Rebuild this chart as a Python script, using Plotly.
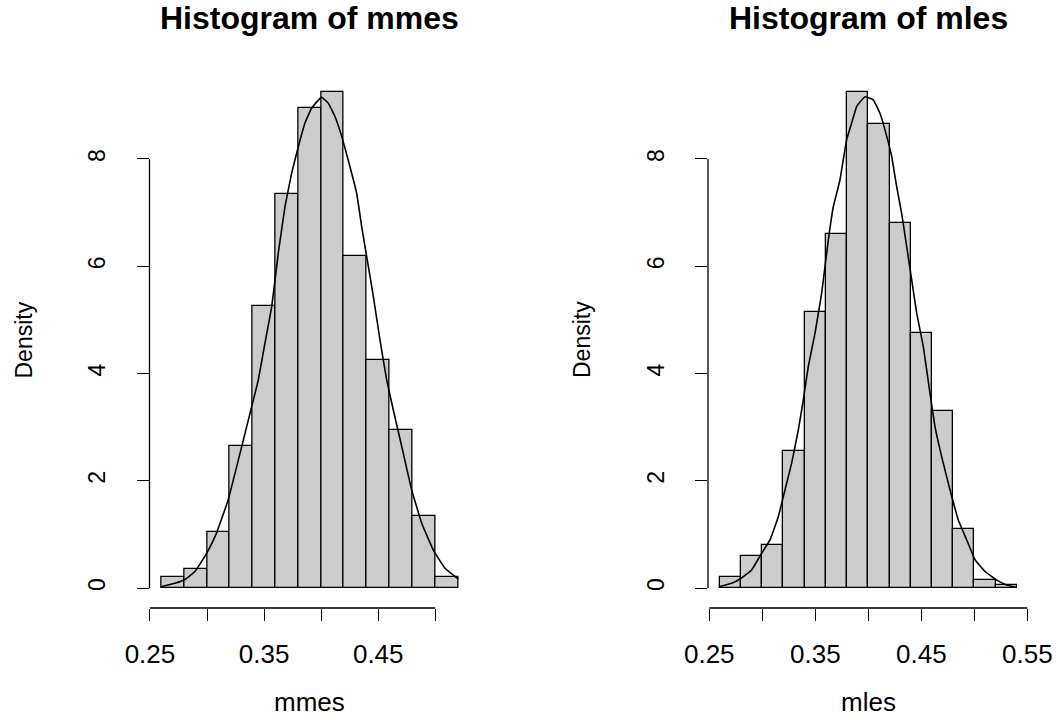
import plotly.graph_objects as go

# ---- data ----
mmes_breaks = [0.26, 0.28, 0.30, 0.32, 0.34, 0.36, 0.38, 0.40, 0.42, 0.44, 0.46, 0.48, 0.50, 0.52]
mmes_density = [0.2, 0.35, 1.05, 2.65, 5.25, 7.35, 8.95, 9.25, 6.2, 4.25, 2.95, 1.35, 0.2]

mles_breaks = [0.26, 0.28, 0.30, 0.32, 0.34, 0.36, 0.38, 0.40, 0.42, 0.44, 0.46, 0.48, 0.50, 0.52, 0.54]
mles_density = [0.2, 0.6, 0.8, 2.55, 5.15, 6.6, 9.25, 8.65, 6.8, 4.75, 3.3, 1.1, 0.15, 0.05]

mmes_curve_x = [0.2603, 0.2719, 0.2813, 0.2894, 0.2997, 0.3084, 0.3186, 0.3245, 0.3304, 0.3391,
                0.3449, 0.3508, 0.3567, 0.3624, 0.3683, 0.3742, 0.3800, 0.3858, 0.3917, 0.3990,
                0.4005, 0.4062, 0.4121, 0.4180, 0.4237, 0.4311, 0.4355, 0.4399, 0.4457, 0.4515,
                0.4574, 0.4632, 0.4706, 0.4793, 0.4881, 0.4983, 0.5085, 0.5202]
mmes_curve_y = [0.03, 0.09, 0.17, 0.31, 0.65, 1.03, 1.65, 2.14, 2.64, 3.38,
                3.88, 4.57, 5.25, 6.24, 7.11, 7.74, 8.23, 8.67, 8.95, 9.13,
                9.15, 9.04, 8.79, 8.42, 7.98, 7.36, 6.74, 6.18, 5.44, 4.63,
                3.88, 3.32, 2.64, 1.83, 1.21, 0.71, 0.37, 0.17]

mles_curve_x = [0.2601, 0.2711, 0.2790, 0.2900, 0.2994, 0.3073, 0.3151, 0.3214, 0.3277, 0.3340,
                0.3387, 0.3434, 0.3497, 0.3560, 0.3623, 0.3670, 0.3733, 0.3796, 0.3843, 0.3891,
                0.3953, 0.3969, 0.4047, 0.4110, 0.4174, 0.4221, 0.4268, 0.4315, 0.4362, 0.4409,
                0.4457, 0.4519, 0.4582, 0.4629, 0.4692, 0.4771, 0.4849, 0.4928, 0.5007, 0.5101,
                0.5211, 0.5306, 0.5384]
mles_curve_y = [0.03, 0.09, 0.17, 0.34, 0.65, 0.90, 1.33, 1.83, 2.33, 2.95,
                3.51, 4.13, 4.75, 5.50, 6.49, 7.11, 7.61, 8.36, 8.67, 8.98,
                9.13, 9.16, 9.10, 8.85, 8.42, 8.04, 7.48, 6.98, 6.37, 5.75,
                5.12, 4.50, 3.63, 3.01, 2.45, 1.83, 1.27, 0.90, 0.53, 0.31,
                0.15, 0.06, 0.02]

mmes_xticks = [0.25, 0.30, 0.35, 0.40, 0.45, 0.50]
mmes_xtick_text = ["0.25", "", "0.35", "", "0.45", ""]
mles_xticks = [0.25, 0.30, 0.35, 0.40, 0.45, 0.50, 0.55]
mles_xtick_text = ["0.25", "", "0.35", "", "0.45", "", "0.55"]
y_ticks = [0, 2, 4, 6, 8]

panels = [
    dict(name="mmes", breaks=mmes_breaks, dens=mmes_density, cx=mmes_curve_x, cy=mmes_curve_y,
         xt=mmes_xticks, xtt=mmes_xtick_text, xr=[0.2496, 0.5304], dom=[149.5, 470.0]),
    dict(name="mles", breaks=mles_breaks, dens=mles_density, cx=mles_curve_x, cy=mles_curve_y,
         xt=mles_xticks, xtt=mles_xtick_text, xr=[0.2488, 0.5512], dom=[708.0, 1028.6]),
]

W, H = 1060, 720


def px(v):
    return v / W


def py(v):
    return 1 - v / H


FONT = "Liberation Sans, Arial, Helvetica, sans-serif"
fig = go.Figure()
shapes = []
annotations = []
layout_axes = {}

for i, p in enumerate(panels):
    k = "" if i == 0 else str(i + 1)
    xa, ya = "x" + k, "y" + k
    centers = [(a + b) / 2 for a, b in zip(p["breaks"][:-1], p["breaks"][1:])]
    widths = [b - a for a, b in zip(p["breaks"][:-1], p["breaks"][1:])]
    fig.add_trace(go.Bar(x=centers, y=p["dens"], width=widths, xaxis=xa, yaxis=ya,
                         marker=dict(color="#CCCCCC", line=dict(color="#000000", width=1.3)),
                         showlegend=False, hoverinfo="x+y"))
    fig.add_trace(go.Scatter(x=p["cx"], y=p["cy"], mode="lines", xaxis=xa, yaxis=ya,
                             line=dict(color="#000000", width=1.6, shape="spline", smoothing=0.3),
                             showlegend=False))
    d0, d1 = px(p["dom"][0]), px(p["dom"][1])
    layout_axes["xaxis" + k] = dict(
        domain=[d0, d1], range=p["xr"], anchor=ya, showgrid=False, zeroline=False, showline=False,
        tickmode="array", tickvals=p["xt"], ticktext=p["xtt"], ticks="outside", ticklen=12,
        tickwidth=1.3, tickcolor="#000000", ticklabelstandoff=11,
        tickfont=dict(family=FONT, size=26, color="#000000"), fixedrange=True)
    layout_axes["yaxis" + k] = dict(
        domain=[py(608), py(72)], range=[-0.37, 9.62], anchor=xa, showgrid=False,
        zeroline=False, showline=False, tickmode="array", tickvals=y_ticks,
        ticktext=[str(v) for v in y_ticks], ticks="outside", ticklen=12, tickwidth=1.3,
        tickcolor="#000000", tickangle=-90, ticklabelstandoff=22,
        tickfont=dict(family=FONT, size=23, color="#000000"), fixedrange=True)
    # R-style axis lines spanning only the tick range
    shapes.append(dict(type="line", xref=xa, yref=ya + " domain", x0=p["xt"][0], x1=p["xt"][-1],
                       y0=0, y1=0, line=dict(color="#000000", width=1.3)))
    shapes.append(dict(type="line", xref=xa + " domain", yref=ya, x0=0, x1=0,
                       y0=y_ticks[0], y1=y_ticks[-1], line=dict(color="#000000", width=1.3)))
    cx = (d0 + d1) / 2
    annotations.append(dict(text="<b>Histogram of " + p["name"] + "</b>", xref="paper", yref="paper",
                            x=cx, y=py(18), xanchor="center", yanchor="middle", showarrow=False,
                            font=dict(family=FONT, size=32, color="#000000")))
    annotations.append(dict(text=p["name"], xref="paper", yref="paper", x=cx, y=py(702),
                            xanchor="center", yanchor="middle", showarrow=False,
                            font=dict(family=FONT, size=26, color="#000000")))
    annotations.append(dict(text="Density", xref="paper", yref="paper",
                            x=px(p["dom"][0] - 126), y=py(340), textangle=-90,
                            xanchor="center", yanchor="middle", showarrow=False,
                            font=dict(family=FONT, size=23, color="#000000")))

fig.update_layout(width=W, height=H, margin=dict(l=0, r=0, t=0, b=0, autoexpand=False),
                  paper_bgcolor="#FFFFFF", plot_bgcolor="#FFFFFF", bargap=0,
                  shapes=shapes, annotations=annotations, **layout_axes)
fig.write_html("out.html", config={"displayModeBar": False},
               post_script="document.body.style.margin='0px';document.body.style.overflow='hidden';")
